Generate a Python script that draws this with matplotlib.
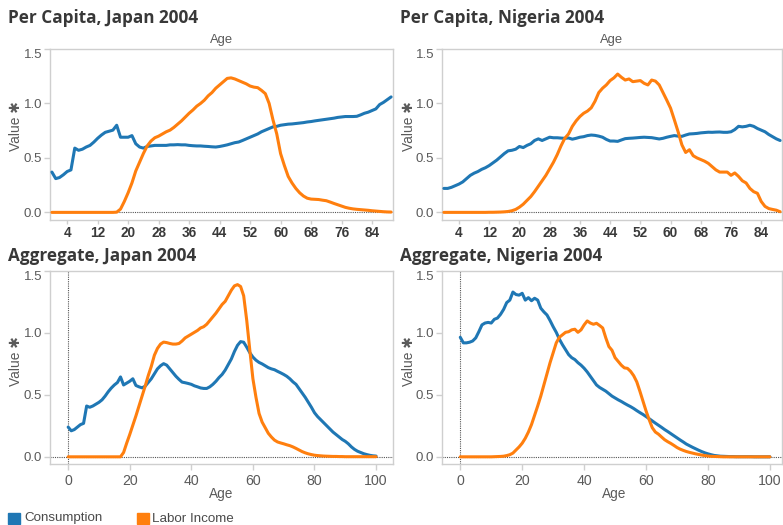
import matplotlib
matplotlib.use("Agg")
import matplotlib.pyplot as plt
from matplotlib.patches import Rectangle
import numpy as np

# ---------------- data ----------------
ages_pc = list(range(0, 90))
ages_ag = list(range(0, 101))

jp_pc_cons = [0.37, 0.31, 0.32, 0.345, 0.375, 0.39, 0.59, 0.57, 0.58, 0.60,
              0.615, 0.645, 0.68, 0.71, 0.735, 0.745, 0.755, 0.80, 0.69, 0.69,
              0.69, 0.705, 0.63, 0.60, 0.59, 0.605, 0.61, 0.615, 0.615, 0.615,
              0.615, 0.62, 0.62, 0.622, 0.62, 0.62, 0.615, 0.612, 0.61, 0.61,
              0.607, 0.605, 0.602, 0.60, 0.605, 0.612, 0.62, 0.63, 0.64, 0.646,
              0.66, 0.675, 0.69, 0.705, 0.72, 0.74, 0.755, 0.77, 0.785, 0.79,
              0.80, 0.805, 0.81, 0.812, 0.816, 0.82, 0.824, 0.83, 0.834, 0.84,
              0.845, 0.85, 0.855, 0.86, 0.865, 0.872, 0.876, 0.88, 0.88, 0.88,
              0.882, 0.895, 0.91, 0.92, 0.935, 0.95, 0.99, 1.01, 1.035, 1.06]
jp_pc_labor = [0, 0, 0, 0, 0, 0, 0, 0, 0, 0,
               0, 0, 0, 0, 0, 0, 0, 0.002, 0.03, 0.10,
               0.18, 0.27, 0.38, 0.46, 0.54, 0.61, 0.655, 0.685, 0.70, 0.72,
               0.74, 0.755, 0.78, 0.81, 0.84, 0.875, 0.91, 0.94, 0.975, 1.0,
               1.03, 1.07, 1.10, 1.14, 1.17, 1.20, 1.23, 1.235, 1.225, 1.21,
               1.195, 1.18, 1.16, 1.15, 1.145, 1.12, 1.09, 1.00, 0.85, 0.72,
               0.54, 0.43, 0.33, 0.27, 0.22, 0.18, 0.15, 0.13, 0.122, 0.12,
               0.118, 0.112, 0.107, 0.095, 0.082, 0.07, 0.058, 0.046, 0.038, 0.032,
               0.028, 0.025, 0.022, 0.019, 0.015, 0.012, 0.009, 0.006, 0.004, 0.003]

ng_pc_cons = [0.22, 0.22, 0.23, 0.245, 0.26, 0.28, 0.31, 0.34, 0.36, 0.375,
              0.395, 0.41, 0.43, 0.455, 0.48, 0.51, 0.54, 0.565, 0.57, 0.58,
              0.605, 0.595, 0.615, 0.63, 0.66, 0.675, 0.66, 0.675, 0.69, 0.685,
              0.685, 0.682, 0.68, 0.683, 0.672, 0.68, 0.69, 0.695, 0.705, 0.71,
              0.707, 0.70, 0.69, 0.67, 0.655, 0.655, 0.652, 0.665, 0.677, 0.68,
              0.682, 0.685, 0.688, 0.69, 0.688, 0.686, 0.68, 0.674, 0.68, 0.69,
              0.698, 0.705, 0.70, 0.698, 0.71, 0.72, 0.722, 0.725, 0.73, 0.733,
              0.736, 0.735, 0.737, 0.738, 0.735, 0.735, 0.74, 0.76, 0.79, 0.785,
              0.79, 0.80, 0.79, 0.77, 0.755, 0.74, 0.715, 0.695, 0.675, 0.66]
ng_pc_labor = [0, 0, 0, 0, 0, 0, 0, 0, 0, 0,
               0, 0, 0.001, 0.001, 0.002, 0.003, 0.005, 0.008, 0.015, 0.027,
               0.048, 0.075, 0.11, 0.145, 0.19, 0.24, 0.29, 0.34, 0.40, 0.46,
               0.53, 0.61, 0.68, 0.72, 0.79, 0.84, 0.88, 0.91, 0.93, 0.96,
               1.02, 1.10, 1.14, 1.17, 1.21, 1.235, 1.27, 1.24, 1.215, 1.225,
               1.20, 1.205, 1.21, 1.185, 1.17, 1.215, 1.205, 1.17, 1.10, 1.03,
               0.957, 0.85, 0.74, 0.62, 0.55, 0.575, 0.52, 0.50, 0.485, 0.47,
               0.45, 0.42, 0.39, 0.37, 0.37, 0.37, 0.34, 0.362, 0.33, 0.29,
               0.27, 0.22, 0.19, 0.175, 0.10, 0.055, 0.035, 0.027, 0.02, 0.006]

jp_ag_cons = [0.24, 0.21, 0.22, 0.24, 0.26, 0.27, 0.41, 0.40, 0.41, 0.425,
              0.44, 0.46, 0.49, 0.525, 0.555, 0.58, 0.60, 0.645, 0.58, 0.595,
              0.61, 0.63, 0.576, 0.565, 0.557, 0.57, 0.60, 0.63, 0.67, 0.71,
              0.735, 0.752, 0.74, 0.71, 0.68, 0.65, 0.625, 0.603, 0.598, 0.592,
              0.585, 0.573, 0.565, 0.556, 0.552, 0.552, 0.565, 0.585, 0.61, 0.64,
              0.665, 0.70, 0.745, 0.79, 0.85, 0.90, 0.93, 0.925, 0.885, 0.84,
              0.805, 0.78, 0.762, 0.75, 0.735, 0.72, 0.71, 0.703, 0.69, 0.678,
              0.665, 0.65, 0.63, 0.605, 0.585, 0.55, 0.515, 0.48, 0.44, 0.40,
              0.356, 0.325, 0.30, 0.275, 0.25, 0.225, 0.20, 0.18, 0.16, 0.14,
              0.125, 0.105, 0.08, 0.06, 0.045, 0.035, 0.025, 0.018, 0.012, 0.008,
              0.006]
jp_ag_labor = [0, 0, 0, 0, 0, 0, 0, 0, 0, 0,
               0, 0, 0, 0, 0, 0, 0, 0, 0.035, 0.11,
               0.18, 0.255, 0.33, 0.41, 0.49, 0.57, 0.655, 0.73, 0.82, 0.875,
               0.91, 0.926, 0.922, 0.915, 0.91, 0.91, 0.915, 0.935, 0.96, 0.975,
               0.99, 1.005, 1.02, 1.04, 1.05, 1.07, 1.10, 1.13, 1.16, 1.195,
               1.23, 1.255, 1.30, 1.345, 1.38, 1.39, 1.375, 1.30, 1.10, 0.86,
               0.63, 0.48, 0.35, 0.28, 0.235, 0.19, 0.16, 0.135, 0.12, 0.112,
               0.105, 0.097, 0.09, 0.08, 0.068, 0.055, 0.042, 0.032, 0.024, 0.018,
               0.013, 0.01, 0.008, 0.006, 0.005, 0.004, 0.003, 0.003, 0.002, 0.002,
               0.001, 0.001, 0.001, 0.001, 0.001, 0.001, 0.001, 0.001, 0.001, 0.001,
               0.001]

ng_ag_cons = [0.965, 0.92, 0.92, 0.925, 0.935, 0.96, 1.01, 1.065, 1.08, 1.085,
              1.08, 1.11, 1.12, 1.15, 1.19, 1.245, 1.265, 1.33, 1.31, 1.305,
              1.32, 1.265, 1.285, 1.26, 1.28, 1.265, 1.20, 1.17, 1.145, 1.10,
              1.05, 1.005, 0.95, 0.905, 0.865, 0.825, 0.80, 0.785, 0.76, 0.74,
              0.715, 0.685, 0.65, 0.615, 0.58, 0.56, 0.545, 0.53, 0.51, 0.49,
              0.475, 0.46, 0.447, 0.432, 0.418, 0.405, 0.39, 0.373, 0.357, 0.342,
              0.325, 0.308, 0.29, 0.272, 0.255, 0.238, 0.22, 0.204, 0.187, 0.17,
              0.153, 0.136, 0.12, 0.103, 0.09, 0.077, 0.065, 0.053, 0.042, 0.032,
              0.024, 0.017, 0.011, 0.008, 0.005, 0.004, 0.003, 0.002, 0.002, 0.001,
              0.001, 0.001, 0.001, 0.001, 0.001, 0.0, 0.0, 0.0, 0.0, 0.0,
              0.0]
ng_ag_labor = [0, 0, 0, 0, 0, 0, 0, 0, 0, 0,
               0, 0.001, 0.002, 0.003, 0.005, 0.01, 0.017, 0.03, 0.055, 0.08,
               0.11, 0.15, 0.20, 0.26, 0.335, 0.41, 0.49, 0.58, 0.67, 0.76,
               0.84, 0.92, 0.965, 0.985, 1.005, 1.01, 1.025, 1.03, 1.005, 1.025,
               1.065, 1.097, 1.08, 1.07, 1.078, 1.06, 1.04, 0.96, 0.89, 0.86,
               0.80, 0.77, 0.74, 0.718, 0.714, 0.69, 0.655, 0.605, 0.53, 0.45,
               0.37, 0.30, 0.235, 0.20, 0.183, 0.16, 0.138, 0.122, 0.108, 0.092,
               0.075, 0.062, 0.052, 0.043, 0.036, 0.03, 0.024, 0.019, 0.014, 0.01,
               0.006, 0.004, 0.003, 0.002, 0.001, 0, 0, 0, 0, 0,
               0, 0, 0, 0, 0, 0, 0, 0, 0, 0,
               0]

pc_ticks = [4, 12, 20, 28, 36, 44, 52, 60, 68, 76, 84]
ag_ticks = [0, 20, 40, 60, 80, 100]
y_ticks = [0.0, 0.5, 1.0, 1.5]
titles = ["Per Capita, Japan 2004", "Per Capita, Nigeria 2004",
          "Aggregate, Japan 2004", "Aggregate, Nigeria 2004"]
series_names = ["Consumption", "Labor Income"]

# ---------------- style ----------------
BLUE = "#1f77b4"
ORANGE = "#ff7f0e"
SPINE = "#cfcfcf"
TXT = "#5a5a5a"
TITLE = "#383838"
W, H = 783, 525
SANS = ["Liberation Sans", "DejaVu Sans"]
plt.rcParams["font.family"] = SANS

fig = plt.figure(figsize=(W / 100, H / 100), dpi=100)


def px_axes(x0, y0, x1, y1):
    return fig.add_axes([x0 / W, 1 - y1 / H, (x1 - x0) / W, (y1 - y0) / H])


def style(ax):
    for s in ax.spines.values():
        s.set_color(SPINE)
        s.set_linewidth(1.0)
    ax.tick_params(axis="both", colors=SPINE, length=4, width=1,
                   labelcolor=TXT, labelsize=9.5)
    ax.set_yticks(y_ticks)
    ax.set_yticklabels(["0.0", "0.5", "1.0", "1.5"])
    ax.tick_params(axis="y", pad=1.5)
    ax.get_yticklabels()[-1].set_va("top")
    ax.axhline(0, color="#555555", lw=0.8, ls=(0, (1, 1)), zorder=1)


panels = [
    (px_axes(50, 49, 393, 220), ages_pc, jp_pc_cons, jp_pc_labor, "pc", (-0.5, 89.5)),
    (px_axes(442, 49, 782, 220), ages_pc, ng_pc_cons, ng_pc_labor, "pc", (-0.5, 89.5)),
    (px_axes(50, 271, 393, 464), ages_ag, jp_ag_cons, jp_ag_labor, "ag", (-5.9, 105.5)),
    (px_axes(442, 271, 782, 464), ages_ag, ng_ag_cons, ng_ag_labor, "ag", (-5.9, 103.9)),
]

for ax, ages, cons, lab, kind, xl in panels:
    assert len(ages) == len(cons) == len(lab)
    style(ax)
    ax.plot(ages, cons, color=BLUE, lw=2.2, zorder=3, solid_capstyle="round")
    ax.plot(ages, lab, color=ORANGE, lw=2.2, zorder=4, solid_capstyle="round")
    ax.set_xlim(*xl)
    if kind == "pc":
        ax.set_ylim(-0.07, 1.5)
        ax.set_xticks(pc_ticks)
        ax.tick_params(axis="x", length=3, pad=1.5, labelsize=9.8,
                       labelcolor="#3a3a3a")
        for t in ax.get_xticklabels():
            t.set_fontweight("bold")
    else:
        ax.set_ylim(-0.058, 1.5)
        ax.set_xticks(ag_ticks)
        ax.tick_params(axis="x", length=4, pad=3.5, labelsize=10.2)
        ax.axvline(0, color="#555555", lw=0.8, ls=(0, (1, 1)), zorder=1)

# titles
for (x, y), t in zip([(8, 23), (400, 23), (8, 261), (400, 261)], titles):
    fig.text(x / W, 1 - y / H, t, family=["Open Sans", "DejaVu Sans"],
             fontweight="bold", fontsize=12.3, color=TITLE, va="baseline")

# top "Age" headers
fig.text(221.5 / W, 1 - 40 / H, "Age", ha="center", va="center", fontsize=9.4, color=TXT)
fig.text(612 / W, 1 - 40 / H, "Age", ha="center", va="center", fontsize=9.4, color=TXT)
# bottom "Age" labels
fig.text(221.5 / W, 1 - 494 / H, "Age", ha="center", va="center", fontsize=9.8, color=TXT)
fig.text(614 / W, 1 - 494 / H, "Age", ha="center", va="center", fontsize=9.8, color=TXT)

# y labels "Value" with pin
for x, y in [(16, 126), (409, 126), (16, 361), (409, 361)]:
    fig.text(x / W, 1 - y / H, "Value \u2731", rotation=90, ha="center", va="center",
             fontsize=9.9, color=TXT)

# legend
for x0, col, name, tx in [(8, BLUE, series_names[0], 24), (137, ORANGE, series_names[1], 152)]:
    fig.patches.append(Rectangle((x0 / W, 1 - 524 / H), 12 / W, 11 / H,
                                 transform=fig.transFigure, color=col))
    fig.text(tx / W, 1 - 518.5 / H, name, va="center", ha="left", fontsize=9.6, color="#4a4a4a")

fig.savefig("out.png", dpi=100)
